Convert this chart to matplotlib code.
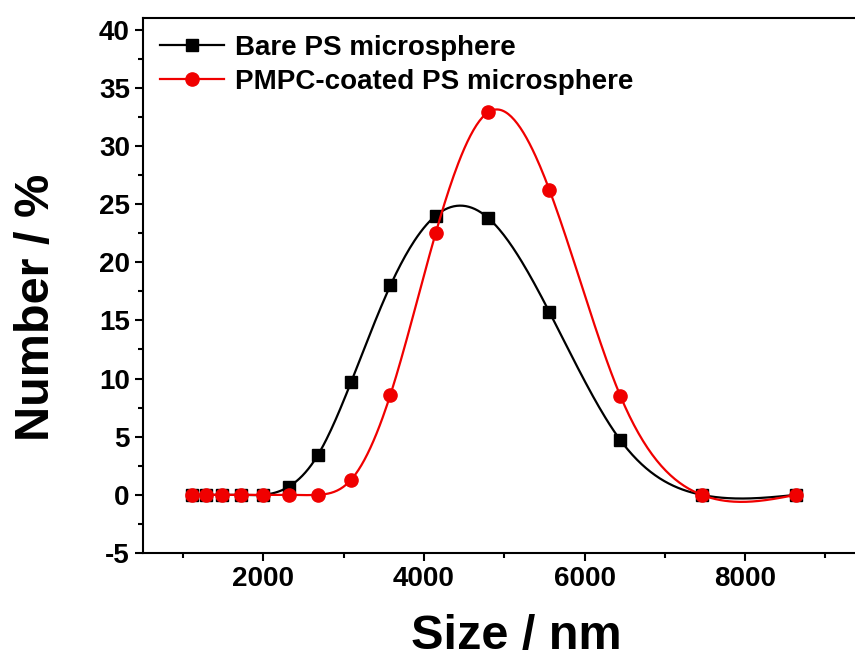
import numpy as np
import matplotlib
matplotlib.use("Agg")
import matplotlib.pyplot as plt
from matplotlib.ticker import MultipleLocator, FixedLocator

plt.rcParams['font.family'] = ['Liberation Sans', 'DejaVu Sans']
plt.rcParams['font.weight'] = 'bold'
plt.rcParams['axes.unicode_minus'] = False

# size bins (nm)
size_nm = [1107, 1286, 1486, 1722, 1991, 2315, 2676, 3092, 3581, 4145,
           4800, 5563, 6446, 7458, 8634]
bare_ps = [0, 0, 0, 0, 0, 0.7, 3.4, 9.7, 18.0, 24.0, 23.8, 15.7, 4.7, 0, 0]
pmpc_ps = [0, 0, 0, 0, 0, 0, 0, 1.3, 8.6, 22.5, 32.9, 26.2, 8.5, 0, 0]

labels = ["Bare PS microsphere", "PMPC-coated PS microsphere"]
colors = ["black", "#f00000"]
markers = ["s", "o"]
x_major = [2000, 4000, 6000, 8000]


def spline_line(x, y, n=400):
    # natural cubic spline, like Origin's "spline" connect
    x = np.asarray(x, float)
    y = np.asarray(y, float)
    k = len(x)
    h = np.diff(x)
    A = np.zeros((k, k))
    b = np.zeros(k)
    A[0, 0] = 1
    A[-1, -1] = 1
    for i in range(1, k - 1):
        A[i, i - 1] = h[i - 1]
        A[i, i] = 2 * (h[i - 1] + h[i])
        A[i, i + 1] = h[i]
        b[i] = 6 * ((y[i + 1] - y[i]) / h[i] - (y[i] - y[i - 1]) / h[i - 1])
    M = np.linalg.solve(A, b)
    xs = np.linspace(x[0], x[-1], n)
    idx = np.clip(np.searchsorted(x, xs) - 1, 0, k - 2)
    x0, x1 = x[idx], x[idx + 1]
    hh = x1 - x0
    t1 = x1 - xs
    t0 = xs - x0
    ys = (M[idx] * t1 ** 3 + M[idx + 1] * t0 ** 3) / (6 * hh) \
        + (y[idx] / hh - M[idx] * hh / 6) * t1 \
        + (y[idx + 1] / hh - M[idx + 1] * hh / 6) * t0
    return xs, ys


fig = plt.figure(figsize=(8.55, 6.64), dpi=100)
# axes run past the right edge, the original is cropped there
ax = fig.add_axes([0.1673, 0.1672, 0.892, 0.8057])

for ys, lab, c, m in zip([bare_ps, pmpc_ps], labels, colors, markers):
    ms = 8 if m == 's' else 9.5
    sx, sy = spline_line(size_nm, ys)
    ax.plot(sx, sy, color=c, lw=1.6)
    ax.plot(size_nm, ys, ls='none', marker=m, color=c, ms=ms)
    # legend proxy
    ax.plot([], [], color=c, lw=1.6, marker=m, ms=ms, label=lab)

ax.set_xlim(500, 10000)
ax.set_ylim(-5, 41)
ax.xaxis.set_major_locator(FixedLocator(x_major))
ax.xaxis.set_minor_locator(MultipleLocator(1000))
ax.yaxis.set_major_locator(MultipleLocator(5))
ax.yaxis.set_minor_locator(MultipleLocator(2.5))

for s in ax.spines.values():
    s.set_linewidth(1.5)
ax.tick_params(which='both', direction='out', width=1.5, labelsize=20,
               top=False, right=False)
ax.tick_params(which='major', length=6)
ax.tick_params(which='minor', length=3.5)
for t in ax.get_xticklabels() + ax.get_yticklabels():
    t.set_fontweight('bold')

ax.set_xlabel("Size / nm", fontsize=35, fontweight='bold', va='center')
ax.set_ylabel("Number / %", fontsize=35, fontweight='bold', va='center')
ax.xaxis.set_label_coords(0.49, -0.157)
ax.yaxis.set_label_coords(-0.14, 0.46)

ax.legend(loc='upper left', frameon=False, handlelength=2.3,
          handletextpad=0.4, labelspacing=0.3, borderaxespad=0.2,
          prop={'weight': 'bold', 'size': 20})

fig.savefig("out.png", dpi=100)
